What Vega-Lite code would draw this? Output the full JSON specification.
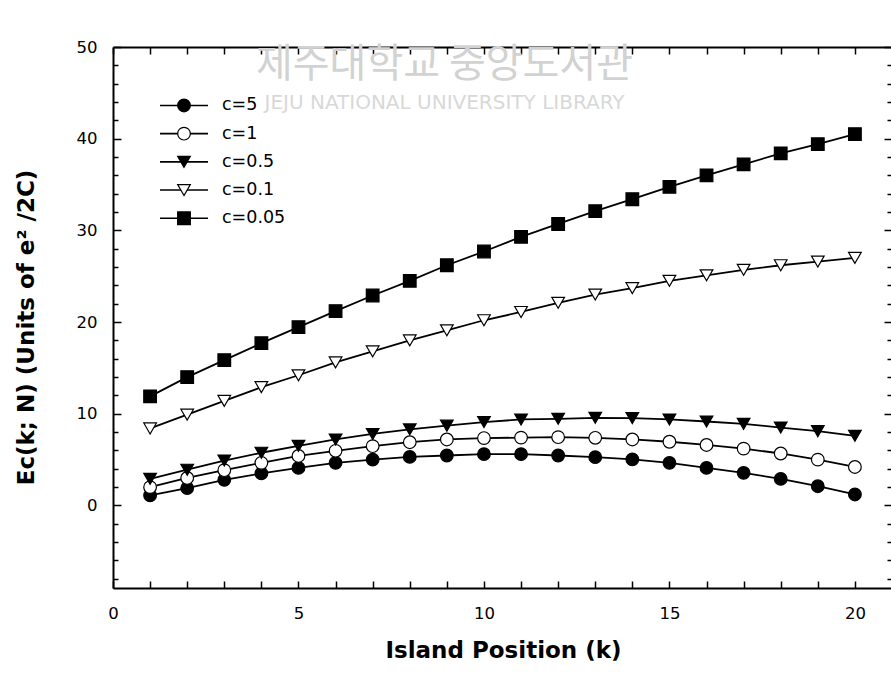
{
  "$schema": "https://vega.github.io/schema/vega-lite/v6.json",
  "width": 779,
  "height": 541,
  "autosize": {"type": "none"},
  "padding": {"left": 113, "top": 47, "right": 0, "bottom": 89},
  "background": "white",
  "config": {"view": {"stroke": null}, "font": "DejaVu Sans", "axis": {"grid": false}},
  "title": {
    "text": "제주대학교 중앙도서관",
    "subtitle": "JEJU NATIONAL UNIVERSITY  LIBRARY",
    "font": "Noto Sans CJK KR",
    "fontSize": 40,
    "fontWeight": "normal",
    "color": "#d2d2d2",
    "subtitleFont": "DejaVu Sans",
    "subtitleFontSize": 20,
    "subtitleColor": "#d8d8d8",
    "subtitlePadding": 8,
    "anchor": "middle",
    "frame": "group",
    "offset": 0,
    "dx": -58,
    "dy": 74
  },
  "data": {"values": [
    {"k":1,"series":"c=5","E":1.1},{"k":2,"series":"c=5","E":1.9},{"k":3,"series":"c=5","E":2.8},{"k":4,"series":"c=5","E":3.5},{"k":5,"series":"c=5","E":4.1},
    {"k":6,"series":"c=5","E":4.65},{"k":7,"series":"c=5","E":5.0},{"k":8,"series":"c=5","E":5.3},{"k":9,"series":"c=5","E":5.45},{"k":10,"series":"c=5","E":5.6},
    {"k":11,"series":"c=5","E":5.6},{"k":12,"series":"c=5","E":5.45},{"k":13,"series":"c=5","E":5.27},{"k":14,"series":"c=5","E":5.02},{"k":15,"series":"c=5","E":4.65},
    {"k":16,"series":"c=5","E":4.1},{"k":17,"series":"c=5","E":3.56},{"k":18,"series":"c=5","E":2.9},{"k":19,"series":"c=5","E":2.1},{"k":20,"series":"c=5","E":1.2},
    {"k":1,"series":"c=1","E":2.0},{"k":2,"series":"c=1","E":3.0},{"k":3,"series":"c=1","E":3.85},{"k":4,"series":"c=1","E":4.65},{"k":5,"series":"c=1","E":5.4},
    {"k":6,"series":"c=1","E":5.96},{"k":7,"series":"c=1","E":6.47},{"k":8,"series":"c=1","E":6.9},{"k":9,"series":"c=1","E":7.2},{"k":10,"series":"c=1","E":7.35},
    {"k":11,"series":"c=1","E":7.4},{"k":12,"series":"c=1","E":7.45},{"k":13,"series":"c=1","E":7.38},{"k":14,"series":"c=1","E":7.2},{"k":15,"series":"c=1","E":6.95},
    {"k":16,"series":"c=1","E":6.6},{"k":17,"series":"c=1","E":6.2},{"k":18,"series":"c=1","E":5.67},{"k":19,"series":"c=1","E":5.0},{"k":20,"series":"c=1","E":4.2},
    {"k":1,"series":"c=0.5","E":2.9},{"k":2,"series":"c=0.5","E":3.9},{"k":3,"series":"c=0.5","E":4.9},{"k":4,"series":"c=0.5","E":5.75},{"k":5,"series":"c=0.5","E":6.5},
    {"k":6,"series":"c=0.5","E":7.2},{"k":7,"series":"c=0.5","E":7.8},{"k":8,"series":"c=0.5","E":8.3},{"k":9,"series":"c=0.5","E":8.7},{"k":10,"series":"c=0.5","E":9.1},
    {"k":11,"series":"c=0.5","E":9.38},{"k":12,"series":"c=0.5","E":9.45},{"k":13,"series":"c=0.5","E":9.56},{"k":14,"series":"c=0.5","E":9.52},{"k":15,"series":"c=0.5","E":9.38},
    {"k":16,"series":"c=0.5","E":9.16},{"k":17,"series":"c=0.5","E":8.9},{"k":18,"series":"c=0.5","E":8.5},{"k":19,"series":"c=0.5","E":8.1},{"k":20,"series":"c=0.5","E":7.6},
    {"k":1,"series":"c=0.1","E":8.4},{"k":2,"series":"c=0.1","E":9.9},{"k":3,"series":"c=0.1","E":11.4},{"k":4,"series":"c=0.1","E":12.9},{"k":5,"series":"c=0.1","E":14.2},
    {"k":6,"series":"c=0.1","E":15.6},{"k":7,"series":"c=0.1","E":16.8},{"k":8,"series":"c=0.1","E":18.0},{"k":9,"series":"c=0.1","E":19.1},{"k":10,"series":"c=0.1","E":20.2},
    {"k":11,"series":"c=0.1","E":21.1},{"k":12,"series":"c=0.1","E":22.1},{"k":13,"series":"c=0.1","E":23.0},{"k":14,"series":"c=0.1","E":23.7},{"k":15,"series":"c=0.1","E":24.5},
    {"k":16,"series":"c=0.1","E":25.1},{"k":17,"series":"c=0.1","E":25.7},{"k":18,"series":"c=0.1","E":26.2},{"k":19,"series":"c=0.1","E":26.6},{"k":20,"series":"c=0.1","E":27.0},
    {"k":1,"series":"c=0.05","E":11.9},{"k":2,"series":"c=0.05","E":14.0},{"k":3,"series":"c=0.05","E":15.85},{"k":4,"series":"c=0.05","E":17.7},{"k":5,"series":"c=0.05","E":19.45},
    {"k":6,"series":"c=0.05","E":21.2},{"k":7,"series":"c=0.05","E":22.9},{"k":8,"series":"c=0.05","E":24.5},{"k":9,"series":"c=0.05","E":26.2},{"k":10,"series":"c=0.05","E":27.7},
    {"k":11,"series":"c=0.05","E":29.3},{"k":12,"series":"c=0.05","E":30.7},{"k":13,"series":"c=0.05","E":32.1},{"k":14,"series":"c=0.05","E":33.4},{"k":15,"series":"c=0.05","E":34.75},
    {"k":16,"series":"c=0.05","E":36.0},{"k":17,"series":"c=0.05","E":37.2},{"k":18,"series":"c=0.05","E":38.4},{"k":19,"series":"c=0.05","E":39.4},{"k":20,"series":"c=0.05","E":40.5}
  ]},
  "layer": [
    {
      "mark": {"type": "line", "strokeWidth": 1.8},
      "encoding": {
        "x": {
          "field": "k", "type": "quantitative",
          "scale": {"domain": [0, 21], "nice": false, "zero": false},
          "axis": {
            "orient": "bottom",
            "values": [0,1,2,3,4,5,6,7,8,9,10,11,12,13,14,15,16,17,18,19,20],
            "labelExpr": "datum.value % 5 === 0 ? datum.label : ''",
            "labelOverlap": false, "labelFlush": false,
            "tickSize": -7, "tickWidth": 1.5, "tickColor": "black",
            "labelPadding": 24.5, "labelFontSize": 16.5, "labelFont": "DejaVu Sans", "labelColor": "black",
            "domainColor": "black", "domainWidth": 2,
            "title": "Island Position (k)",
            "titleFont": "DejaVu Sans", "titleFontSize": 23, "titleFontWeight": "bold", "titleColor": "black",
            "titleX": 390, "titleY": 69, "titleBaseline": "alphabetic", "titleAlign": "center", "titleAngle": 0
          }
        },
        "y": {
          "field": "E", "type": "quantitative",
          "scale": {"domain": [-9, 50], "nice": false, "zero": false},
          "axis": {
            "orient": "left",
            "values": [-8,-6,-4,-2,0,2,4,6,8,10,12,14,16,18,20,22,24,26,28,30,32,34,36,38,40,42,44,46,48,50],
            "labelExpr": "datum.value % 10 === 0 ? datum.label : ''",
            "labelOverlap": false, "labelFlush": false,
            "tickSize": {"condition": {"test": "datum.value % 10 === 0", "value": -8}, "value": -5},
            "tickWidth": 1.5, "tickColor": "black",
            "labelPadding": 24, "labelFontSize": 16.5, "labelFont": "DejaVu Sans", "labelColor": "black",
            "domainColor": "black", "domainWidth": 2,
            "title": "Ec(k; N) (Units of e² /2C)",
            "titleFont": "DejaVu Sans", "titleFontSize": 23, "titleFontWeight": "bold", "titleColor": "black",
            "titleX": -80, "titleY": 280, "titleAngle": -90, "titleBaseline": "alphabetic", "titleAlign": "center"
          }
        },
        "color": {
          "field": "series", "type": "nominal",
          "sort": ["c=5", "c=1", "c=0.5", "c=0.1", "c=0.05"],
          "scale": {"range": ["black", "black", "black", "black", "black"]},
          "legend": {
            "orient": "none", "legendX": 62.25, "legendY": 49.7, "title": null, "padding": 0,
            "symbolType": "M-4,0H4", "symbolSize": 144, "symbolStrokeWidth": 1.6, "symbolStrokeColor": "black",
            "labelFontSize": 17.5, "labelFont": "DejaVu Sans", "labelColor": "black", "labelOffset": 29.25,
            "rowPadding": 9.2, "labelLimit": 200
          }
        }
      }
    },
    {
      "mark": {"type": "point", "filled": true, "stroke": "black", "strokeWidth": 1.2, "size": 160, "opacity": 1},
      "encoding": {
        "x": {
          "field": "k", "type": "quantitative",
          "scale": {"domain": [0, 21], "nice": false, "zero": false},
          "axis": {
            "orient": "top",
            "values": [0,1,2,3,4,5,6,7,8,9,10,11,12,13,14,15,16,17,18,19,20],
            "labels": false, "tickSize": -7, "tickWidth": 1.5, "tickColor": "black",
            "domainColor": "black", "domainWidth": 2, "title": null
          }
        },
        "y": {
          "field": "E", "type": "quantitative",
          "scale": {"domain": [-9, 50], "nice": false, "zero": false},
          "axis": {
            "orient": "right",
            "values": [-8,-6,-4,-2,0,2,4,6,8,10,12,14,16,18,20,22,24,26,28,30,32,34,36,38,40,42,44,46,48,50],
            "labels": false,
            "tickSize": {"condition": {"test": "datum.value % 10 === 0", "value": -8}, "value": -5},
            "tickWidth": 1.5, "tickColor": "black",
            "domainColor": "black", "domainWidth": 2, "title": null
          }
        },
        "fill": {
          "field": "series", "type": "nominal",
          "scale": {"domain": ["c=5", "c=1", "c=0.5", "c=0.1", "c=0.05"], "range": ["black", "white", "black", "white", "black"]},
          "legend": {
            "orient": "none", "legendX": 62.25, "legendY": 49.7, "title": null, "padding": 0,
            "symbolSize": 160, "symbolStrokeWidth": 1.2, "symbolOpacity": 1,
            "labelFontSize": 17.5, "labelFont": "DejaVu Sans", "labelExpr": "' '", "labelOffset": 29.25,
            "rowPadding": 9.2,
            "encode": {"symbols": {"update": {"stroke": {"value": "black"}, "strokeWidth": {"value": 1.2}}}}
          }
        },
        "shape": {
          "field": "series", "type": "nominal",
          "scale": {"domain": ["c=5", "c=1", "c=0.5", "c=0.1", "c=0.05"], "range": ["circle", "circle", "triangle-down", "triangle-down", "square"]},
          "legend": {
            "orient": "none", "legendX": 62.25, "legendY": 49.7, "title": null, "padding": 0,
            "symbolSize": 160, "symbolStrokeWidth": 1.2, "symbolOpacity": 1,
            "labelFontSize": 17.5, "labelFont": "DejaVu Sans", "labelExpr": "' '", "labelOffset": 29.25,
            "rowPadding": 9.2,
            "encode": {"symbols": {"update": {"stroke": {"value": "black"}, "strokeWidth": {"value": 1.2}}}}
          }
        }
      }
    }
  ],
  "resolve": {"axis": {"x": "independent", "y": "independent"}}
}
